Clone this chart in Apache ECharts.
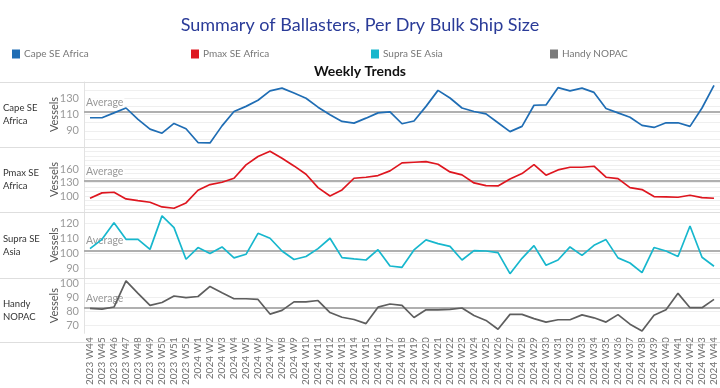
<!DOCTYPE html>
<html>
<head>
<meta charset="utf-8">
<script src="https://cdn.jsdelivr.net/npm/echarts@6/dist/echarts.min.js"></script>
<style>html,body{margin:0;padding:0;background:#fff}#c{width:720px;height:388px}</style>
</head>
<body>
<div id="c"></div>
<script>
const categories = ['2023 W44','2023 W45','2023 W46','2023 W47','2023 W48','2023 W49','2023 W50','2023 W51','2023 W52',
'2024 W1','2024 W2','2024 W3','2024 W4','2024 W5','2024 W6','2024 W7','2024 W8','2024 W9','2024 W10','2024 W11',
'2024 W12','2024 W13','2024 W14','2024 W15','2024 W16','2024 W17','2024 W18','2024 W19','2024 W20','2024 W21',
'2024 W22','2024 W23','2024 W24','2024 W25','2024 W26','2024 W27','2024 W28','2024 W29','2024 W30','2024 W31',
'2024 W32','2024 W33','2024 W34','2024 W35','2024 W36','2024 W37','2024 W38','2024 W39','2024 W40','2024 W41',
'2024 W42','2024 W43','2024 W44'];

const cape = [106,106,112,118,104,92,87,99,92.5,75.5,75,96,113.7,120,127.5,139,142.5,136.4,130,119,
109.6,101.5,99.4,105.5,112,113.3,98.6,102,120,139.7,130.3,118,113.7,110.8,99.8,88.9,95.4,121.4,121.8,143,
139,142.5,137.2,117.3,112,106.7,96.6,94.1,99.8,99.8,95.4,118,145.8];
const pmax = [94.9,106.9,108.4,93.4,89.6,85.9,75.4,72.4,84.4,112.8,125.6,130.8,139.8,169.8,188.5,200.5,184.8,167.5,148.8,118.8,
100.1,113.6,139.8,142.1,145.8,156.3,174.3,175.8,177.3,171.3,154,147.3,129.3,123.3,122.6,138.3,150.3,170.5,146.6,158.5,
164.5,164.5,166.8,142.1,139,118.8,114.3,98.6,97.9,97.1,101.6,96.4,94.9];
const supra = [103.1,109.3,120.4,109.3,109.3,102.6,124.9,117.1,96,103.8,99.8,104.2,96.9,99.3,113.3,110,101.5,95.8,97.8,103.1,
110,97.1,96.2,95.5,102.4,91.5,90.6,102.2,108.9,106.4,104.6,95.5,101.8,101.5,100.4,86.4,96.6,105.1,92,95.5,
104.2,98.6,105.3,109.1,96.9,93.5,87.1,103.8,101.5,97.8,118.2,97.3,91.3];
const handy = [82,81.5,83,101.9,92.9,84.2,86.3,91,89.8,90.6,97.9,93.3,89,89,88.5,77.9,80.6,86.7,86.7,87.7,
79,75.6,74,71,82.9,85.2,84.2,75.4,81,81,81.3,82.3,76.9,73.3,66.9,77.7,77.7,74.6,72.1,73.8,
73.8,77.3,75.2,72.1,77.5,70.6,65.6,77.1,81,92.9,82.5,82.5,88.5];

const seriesNames = ['Cape SE Africa','Pmax SE Africa','Supra SE Asia','Handy NOPAC'];
const rowLabels = ['Cape SE\nAfrica','Pmax SE\nAfrica','Supra SE\nAsia','Handy\nNOPAC'];
const averages = [112.8, 133.8, 102, 82.2];
const yMin = [70, 64, 83.5, 64];
const yMax = [150, 210, 127.5, 104];
const yTickLabels = [[90,110,130],[100,130,160],[90,100,110,120],[70,80,90,100]];
const yGridValues = [[80,90,100,110,120,130,140],[70,80,90,100,110,120,130,140,150,160,170,180,190,200],[90,100,110,120],[70,80,90,100]];
const allData = [cape, pmax, supra, handy];

const colors = ['#1f6db4','#de161f','#17b7cd','#5e5e5e'];
const legendColors = ['#1f6db4','#de161f','#17b7cd','#7a7a7a'];
const gridTop = [82, 147, 212, 278];
const gridH = [65, 65, 66, 64];
const legendLeft = [7, 186, 366, 545];
const FONT = 'Lato';

const grids = [], xAxes = [], yAxes = [], series = [], legends = [], graphics = [];
for (let k = 0; k < 4; k++) {
  grids.push({left: 84, right: 0, top: gridTop[k], height: gridH[k], containLabel: false});
  xAxes.push({
    type: 'category', gridIndex: k, data: categories, boundaryGap: true,
    axisLine: {show: false}, axisTick: {show: false},
    axisLabel: k === 3 ? {show: true, rotate: 90, interval: 0, fontSize: 10, color: '#707070', fontFamily: FONT, margin: 4} : {show: false},
    splitLine: {show: false}
  });
  const labs = yTickLabels[k];
  yAxes.push({
    type: 'value', gridIndex: k, min: yMin[k], max: yMax[k], interval: 0.5,
    name: 'Vessels', nameLocation: 'middle', nameGap: 24, nameMoveOverlap: false,
    nameTextStyle: {fontSize: 11, color: '#555', fontFamily: FONT},
    axisLine: {show: true, lineStyle: {color: '#e2e2e2'}},
    axisTick: {show: false},
    splitLine: {show: false},
    axisLabel: {fontSize: 11, color: '#9a9a9a', fontFamily: FONT, margin: 5,
      formatter: v => labs.indexOf(v) >= 0 ? String(v) : ''}
  });
  // light grid lines (helper series, invisible line)
  series.push({
    type: 'line', xAxisIndex: k, yAxisIndex: k, data: allData[k], silent: true,
    symbol: 'none', lineStyle: {opacity: 0}, z: 0,
    markLine: {silent: true, symbol: 'none', label: {show: false}, z: 0,
      lineStyle: {color: '#efefef', width: 1, type: 'solid'},
      data: yGridValues[k].map(v => ({yAxis: v}))}
  });
  // average reference line (helper series, below the data line)
  series.push({
    type: 'line', xAxisIndex: k, yAxisIndex: k, data: allData[k], silent: true,
    symbol: 'none', lineStyle: {opacity: 0}, z: 1,
    markLine: {silent: true, symbol: 'none', z: 1,
      lineStyle: {color: '#b0b0b0', width: 2, type: 'solid'},
      label: {show: true, position: 'insideStartTop', formatter: 'Average', color: '#999', fontSize: 10.5,
        fontFamily: FONT, distance: [1, 4], padding: [0, 1, 0, 1], backgroundColor: 'rgba(255,255,255,0.85)'},
      data: [{yAxis: averages[k]}]}
  });
  series.push({
    name: seriesNames[k], type: 'line', xAxisIndex: k, yAxisIndex: k, data: allData[k],
    symbol: 'none', lineStyle: {color: colors[k], width: 1.7}, itemStyle: {color: legendColors[k]}, z: 3
  });
  legends.push({
    data: [seriesNames[k]], left: legendLeft[k], top: 44, icon: 'rect', itemWidth: 8, itemHeight: 9, itemGap: 4,
    textStyle: {fontSize: 10, color: '#777', fontFamily: FONT, padding: [0, 0, 0, -1]}, selectedMode: false
  });
  graphics.push({type: 'text', left: 3, top: gridTop[k] + gridH[k] / 2 - 13,
    style: {text: rowLabels[k], fontSize: 9.5, lineHeight: 13, fill: '#333', fontFamily: FONT}});
  graphics.push({type: 'rect', shape: {x: 0, y: gridTop[k], width: 720, height: 1}, style: {fill: '#dedede'}, z: 10});
}
graphics.push({type: 'rect', shape: {x: 0, y: 342, width: 720, height: 1}, style: {fill: '#dedede'}, z: 10});

const chart = echarts.init(document.getElementById('c'), null, {renderer: 'canvas'});
chart.setOption({
  animation: false,
  title: [
    {text: 'Summary of Ballasters, Per Dry Bulk Ship Size', left: 'center', top: 11,
      textStyle: {fontSize: 18, fontWeight: 'normal', color: '#2a3b98', fontFamily: FONT}},
    {text: 'Weekly Trends', left: 'center', top: 59,
      textStyle: {fontSize: 14, fontWeight: 'bold', color: '#111', fontFamily: FONT}}
  ],
  legend: legends,
  grid: grids, xAxis: xAxes, yAxis: yAxes, series: series, graphic: graphics
});
</script>
</body>
</html>
